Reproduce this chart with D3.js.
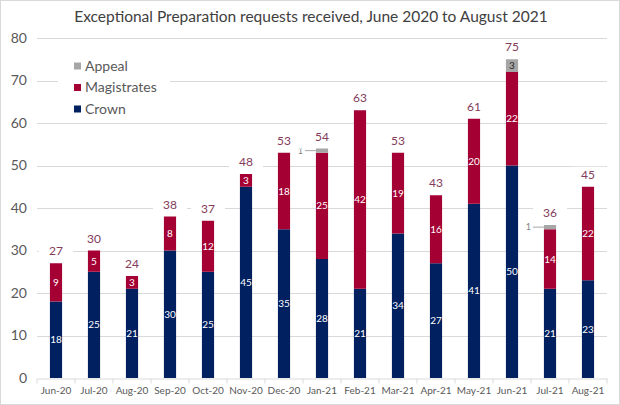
<!DOCTYPE html>
<html>
<head>
<meta charset="utf-8">
<style>
  * { margin:0; padding:0 }
  body { background:#fff; overflow:hidden; font-family: Lato, "Open Sans", sans-serif; }
</style>
<script src="https://cdn.jsdelivr.net/npm/d3@7"></script>
</head>
<body>
<script>
var months = ["Jun-20","Jul-20","Aug-20","Sep-20","Oct-20","Nov-20","Dec-20",
              "Jan-21","Feb-21","Mar-21","Apr-21","May-21","Jun-21","Jul-21","Aug-21"];
var crown       = [18, 25, 21, 30, 25, 45, 35, 28, 21, 34, 27, 41, 50, 21, 23];
var magistrates = [ 9,  5,  3,  8, 12,  3, 18, 25, 42, 19, 16, 20, 22, 14, 22];
var appeal      = [ 0,  0,  0,  0,  0,  0,  0,  1,  0,  0,  0,  0,  3,  1,  0];
var yTicks = [0, 10, 20, 30, 40, 50, 60, 70, 80];
var seriesNames = ["Crown", "Magistrates", "Appeal"];
var legendOrder = ["Appeal", "Magistrates", "Crown"];

var colors = { Crown: "#002060", Magistrates: "#A50034", Appeal: "#A6A6A6" };

var width = 620, height = 405;
var margin = { top: 38, right: 13, bottom: 27, left: 37 };

var rows = months.map(function(m, i) {
  return { month: m, Crown: crown[i], Magistrates: magistrates[i], Appeal: appeal[i],
           total: crown[i] + magistrates[i] + appeal[i] };
});

var svg = d3.select("body").append("svg")
    .attr("width", width)
    .attr("height", height);

svg.append("rect")
    .attr("x", 0.5).attr("y", 0.5)
    .attr("width", width - 1).attr("height", height - 1)
    .attr("fill", "#fff").attr("stroke", "#D9D9D9");

var x = d3.scaleBand()
    .domain(months)
    .range([margin.left, width - margin.right])
    .paddingInner(0.68).paddingOuter(0.34);

var y = d3.scaleLinear()
    .domain([0, 80])
    .range([height - margin.bottom, margin.top]);

// gridlines
svg.append("g")
  .selectAll("line")
  .data(yTicks.slice(1))
  .enter().append("line")
    .attr("x1", margin.left).attr("x2", width - margin.right)
    .attr("y1", function(d) { return Math.round(y(d)) + 0.5; })
    .attr("y2", function(d) { return Math.round(y(d)) + 0.5; })
    .attr("stroke", "#D9D9D9");

// y labels
svg.append("g")
  .selectAll("text")
  .data(yTicks)
  .enter().append("text")
    .attr("x", 27)
    .attr("y", function(d) { return y(d); })
    .attr("dy", "0.35em")
    .attr("text-anchor", "end")
    .attr("fill", "#595959")
    .style("font-size", "14px")
    .text(function(d) { return d; });

// x axis
var xAxis = d3.axisBottom(x).tickSize(0).tickPadding(8);
var gx = svg.append("g")
    .attr("transform", "translate(0," + (Math.round(y(0)) + 0.5) + ")")
    .call(xAxis);
gx.select(".domain").attr("stroke", "#D9D9D9");
gx.selectAll("text").attr("fill", "#595959").style("font-size", "10px")
    .style("font-family", "Lato, 'Open Sans', sans-serif");
var step = x.step();
gx.selectAll(".sep")
  .data(d3.range(months.length + 1))
  .enter().append("line")
    .attr("x1", function(i) { return margin.left + i * step; })
    .attr("x2", function(i) { return margin.left + i * step; })
    .attr("y1", 0).attr("y2", 5)
    .attr("stroke", "#D9D9D9");

// stacked bars
var stack = d3.stack().keys(seriesNames)(rows);

var layers = svg.append("g")
  .selectAll("g")
  .data(stack)
  .enter().append("g")
    .attr("fill", function(d) { return colors[d.key]; });

layers.selectAll("rect")
  .data(function(d) { return d; })
  .enter().append("rect")
    .attr("x", function(d) { return x(d.data.month); })
    .attr("y", function(d) { return y(d[1]); })
    .attr("height", function(d) { return y(d[0]) - y(d[1]); })
    .attr("width", x.bandwidth());

// segment labels
stack.forEach(function(layer) {
  layer.forEach(function(d) {
    var v = d[1] - d[0];
    if (v <= 0) return;
    var cx = x(d.data.month) + x.bandwidth() / 2;
    if (layer.key === "Appeal" && v < 2) {
      var ly = y((d[0] + d[1]) / 2);
      svg.append("line")
          .attr("x1", x(d.data.month) - 11).attr("x2", x(d.data.month))
          .attr("y1", ly).attr("y2", ly)
          .attr("stroke", "#A6A6A6");
      svg.append("text")
          .attr("x", x(d.data.month) - 13).attr("y", ly)
          .attr("dy", "0.35em").attr("text-anchor", "end")
          .attr("fill", "#7F7F7F").style("font-size", "9px")
          .text(v);
      return;
    }
    svg.append("text")
        .attr("x", cx)
        .attr("y", y((d[0] + d[1]) / 2))
        .attr("dy", "0.35em")
        .attr("text-anchor", "middle")
        .attr("fill", layer.key === "Appeal" ? "#262626" : "#fff")
        .style("font-size", "10px")
        .text(v);
  });
});

// total labels with white box
var totals = svg.append("g")
  .selectAll("g")
  .data(rows)
  .enter().append("g")
    .attr("transform", function(d) {
      return "translate(" + (x(d.month) + x.bandwidth() / 2) + "," + (y(d.total) - 12) + ")";
    });
totals.append("rect")
    .attr("x", -17).attr("y", -8).attr("width", 34).attr("height", 16)
    .attr("fill", "#fff");
totals.append("text")
    .attr("dy", "0.35em")
    .attr("text-anchor", "middle")
    .attr("fill", "#843C5C")
    .style("font-size", "12px")
    .text(function(d) { return d.total; });

// legend
var legend = svg.append("g").attr("transform", "translate(58,56)");
legend.append("rect")
    .attr("x", 0).attr("y", 0).attr("width", 112).attr("height", 64)
    .attr("fill", "#fff");
var items = legend.selectAll(".item")
  .data(legendOrder)
  .enter().append("g")
    .attr("transform", function(d, i) { return "translate(16," + (10 + i * 21.5) + ")"; });
items.append("rect")
    .attr("x", 0).attr("y", -3.5).attr("width", 7).attr("height", 7)
    .attr("fill", function(d) { return colors[d]; });
items.append("text")
    .attr("x", 11).attr("dy", "0.35em")
    .attr("fill", "#595959")
    .style("font-size", "14px")
    .text(function(d) { return d; });

// title
svg.append("text")
    .attr("x", width / 2 + 1).attr("y", 17)
    .attr("dy", "0.35em")
    .attr("text-anchor", "middle")
    .attr("fill", "#404040")
    .style("font-size", "15.5px")
    .text("Exceptional Preparation requests received, June 2020 to August 2021");
</script>
</body>
</html>
